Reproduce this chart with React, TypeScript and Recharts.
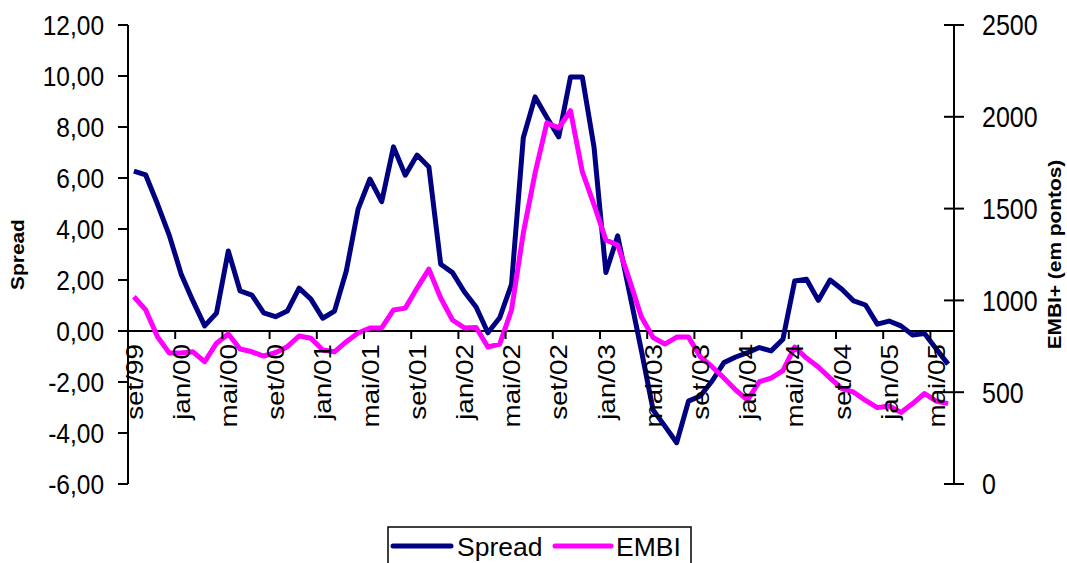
import { LineChart, Line, XAxis, YAxis, ReferenceLine, ReferenceDot, Legend } from 'recharts'

document.body.style.margin = '0'

// monthly observations, set/99 .. jun/05
const months = [
  'set/99', 'out/99', 'nov/99', 'dez/99',
  'jan/00', 'fev/00', 'mar/00', 'abr/00', 'mai/00', 'jun/00', 'jul/00', 'ago/00', 'set/00', 'out/00', 'nov/00', 'dez/00',
  'jan/01', 'fev/01', 'mar/01', 'abr/01', 'mai/01', 'jun/01', 'jul/01', 'ago/01', 'set/01', 'out/01', 'nov/01', 'dez/01',
  'jan/02', 'fev/02', 'mar/02', 'abr/02', 'mai/02', 'jun/02', 'jul/02', 'ago/02', 'set/02', 'out/02', 'nov/02', 'dez/02',
  'jan/03', 'fev/03', 'mar/03', 'abr/03', 'mai/03', 'jun/03', 'jul/03', 'ago/03', 'set/03', 'out/03', 'nov/03', 'dez/03',
  'jan/04', 'fev/04', 'mar/04', 'abr/04', 'mai/04', 'jun/04', 'jul/04', 'ago/04', 'set/04', 'out/04', 'nov/04', 'dez/04',
  'jan/05', 'fev/05', 'mar/05', 'abr/05', 'mai/05', 'jun/05',
]

const spread = [
  6.27, 6.12, 4.98, 3.75,
  2.24, 1.18, 0.2, 0.7, 3.14, 1.57, 1.41, 0.71, 0.56, 0.78, 1.68, 1.25,
  0.5, 0.78, 2.35, 4.78, 5.96, 5.07, 7.22, 6.11, 6.9, 6.43, 2.62, 2.29,
  1.54, 0.94, -0.07, 0.52, 1.83, 7.58, 9.18, 8.37, 7.61, 9.96, 9.96, 7.19,
  2.29, 3.73, 1.5, -0.75, -3.1, -3.73, -4.38, -2.75, -2.55, -1.96, -1.24, -1.02,
  -0.85, -0.65, -0.78, -0.32, 1.96, 2.03, 1.2, 2.0, 1.64, 1.18, 1.02, 0.27,
  0.39, 0.2, -0.16, -0.1, -0.71, -1.3,
]

const embi = [
  1020, 948, 802, 713,
  713, 720, 666, 767, 817, 735, 720, 697, 715, 748, 806, 794,
  730, 720, 775, 822, 850, 850, 948, 958, 1067, 1170, 1013, 893,
  850, 852, 746, 762, 948, 1367, 1694, 1968, 1939, 2033, 1701, 1520,
  1329, 1302, 1111, 911, 798, 762, 800, 800, 693, 639, 577, 512,
  457, 557, 577, 617, 746, 686, 637, 577, 520, 500, 455, 416,
  425, 390, 438, 493, 451, 438,
]

const spreadTicks = [-6, -4, -2, 0, 2, 4, 6, 8, 10, 12]
const embiTicks = [0, 500, 1000, 1500, 2000, 2500]
const labelMonths = [
  'set/99', 'jan/00', 'mai/00', 'set/00', 'jan/01', 'mai/01', 'set/01', 'jan/02', 'mai/02',
  'set/02', 'jan/03', 'mai/03', 'set/03', 'jan/04', 'mai/04', 'set/04', 'jan/05', 'mai/05',
]
const legendOrder = ['Spread', 'EMBI']

const data = months.map((m, i) => ({ i, month: m, spread: spread[i], embi: embi[i] }))
const labelIdx = labelMonths.map((m) => months.indexOf(m))
// excel puts the tick marks between categories
const tickIdx = labelIdx.slice(1).map((i) => i - 0.5)

const FONT = '"Liberation Sans", Arial, Helvetica, sans-serif'
const SY = 1.16 // the picture is a bit stretched vertically

const fmt = (v: number) => v.toFixed(2).replace('.', ',')

function LeftTick({ x, y, payload }: any) {
  return (
    <g>
      <line x1={x - 10} x2={x} y1={y} y2={y} stroke="#000" strokeWidth={2} />
      <text transform={`translate(${x - 24},${y}) scale(1,${SY})`} textAnchor="end" dy="0.36em" fontSize={24.5} fill="#000" fontFamily={FONT}>
        {fmt(payload.value)}
      </text>
    </g>
  )
}

function RightTick({ x, y, payload }: any) {
  return (
    <g>
      <line x1={x - 10} x2={x + 10} y1={y} y2={y} stroke="#000" strokeWidth={2} />
      <text transform={`translate(${x + 28},${y}) scale(1,${SY})`} textAnchor="start" dy="0.36em" fontSize={25} fill="#000" fontFamily={FONT}>
        {payload.value}
      </text>
    </g>
  )
}

function SideTitle({ viewBox, text, dx }: any) {
  const cx = dx >= 0 ? viewBox.x + dx : viewBox.x + viewBox.width + dx
  const cy = viewBox.y + viewBox.height / 2
  return (
    <text transform={`translate(${cx},${cy}) rotate(-90) scale(${SY},1)`} textAnchor="middle" dy="0.36em" fontSize={18} fontWeight="bold" fill="#000" fontFamily={FONT}>
      {text}
    </text>
  )
}

function LegendBox({ payload }: any) {
  const items = [...(payload || [])].sort((a: any, b: any) => legendOrder.indexOf(a.value) - legendOrder.indexOf(b.value))
  const slots = [
    { lx1: 6, lx2: 64, tx: 70 },
    { lx1: 168, lx2: 224, tx: 229 },
  ]
  return (
    <svg width={305} height={40} style={{ display: 'block' }}>
      <rect x={1} y={1} width={303} height={44} fill="#fff" stroke="#000" strokeWidth={1.5} />
      {items.map((it: any, k: number) => (
        <g key={it.value}>
          <line x1={slots[k].lx1} x2={slots[k].lx2} y1={20} y2={20} stroke={it.color} strokeWidth={5} strokeLinecap="round" />
          <text x={slots[k].tx} y={30} fontSize={26.5} fill="#000" fontFamily={FONT}>
            {it.value}
          </text>
        </g>
      ))}
    </svg>
  )
}

export default function App() {
  return (
    <LineChart
      width={1067}
      height={563}
      data={data}
      margin={{ top: 25, right: 0, bottom: 79, left: 0 }}
      style={{ fontFamily: FONT, background: '#fff' }}
    >
      <XAxis dataKey="i" type="number" domain={[-0.5, 69.5]} hide />
      <YAxis
        yAxisId="left"
        orientation="left"
        width={128}
        domain={[-6, 12]}
        ticks={spreadTicks}
        interval={0}
        tickSize={0}
        tickMargin={0}
        tickLine={false}
        axisLine={{ stroke: '#000', strokeWidth: 2 }}
        tick={LeftTick}
        label={(p: any) => <SideTitle {...p} text="Spread" dx={18} />}
      />
      <YAxis
        yAxisId="right"
        orientation="right"
        width={113}
        domain={[0, 2500]}
        ticks={embiTicks}
        interval={0}
        tickSize={0}
        tickMargin={0}
        tickLine={false}
        axisLine={{ stroke: '#000', strokeWidth: 2 }}
        tick={RightTick}
        label={(p: any) => <SideTitle {...p} text="EMBI+ (em pontos)" dx={-12} />}
      />
      <ReferenceLine yAxisId="left" y={0} stroke="#000" strokeWidth={2} />
      {tickIdx.map((t) => (
        <ReferenceDot
          key={'t' + t}
          yAxisId="left"
          x={t}
          y={0}
          r={1}
          ifOverflow="visible"
          shape={(p: any) => <line x1={p.cx} x2={p.cx} y1={p.cy} y2={p.cy + 8} stroke="#000" strokeWidth={2} />}
        />
      ))}
      {labelIdx.map((idx, k) => (
        <ReferenceDot
          key={'l' + idx}
          yAxisId="left"
          x={idx}
          y={0}
          r={1}
          ifOverflow="visible"
          shape={(p: any) => (
            <text
              transform={`translate(${p.cx},${p.cy + 13}) rotate(-90) scale(${SY},1)`}
              textAnchor="end"
              dy="0.36em"
              fontSize={24}
              fill="#000"
              fontFamily={FONT}
            >
              {labelMonths[k]}
            </text>
          )}
        />
      ))}
      <Line
        yAxisId="left"
        type="linear"
        dataKey="spread"
        name="Spread"
        stroke="#000080"
        strokeWidth={5}
        strokeLinejoin="round"
        dot={false}
        isAnimationActive={false}
      />
      <Line
        yAxisId="right"
        type="linear"
        dataKey="embi"
        name="EMBI"
        stroke="#FF00FF"
        strokeWidth={5}
        strokeLinejoin="round"
        dot={false}
        isAnimationActive={false}
      />
      <Legend
        layout="horizontal"
        verticalAlign="middle"
        align="center"
        content={LegendBox}
        wrapperStyle={{ left: 387, top: 526, width: 305, height: 40 }}
      />
    </LineChart>
  )
}
